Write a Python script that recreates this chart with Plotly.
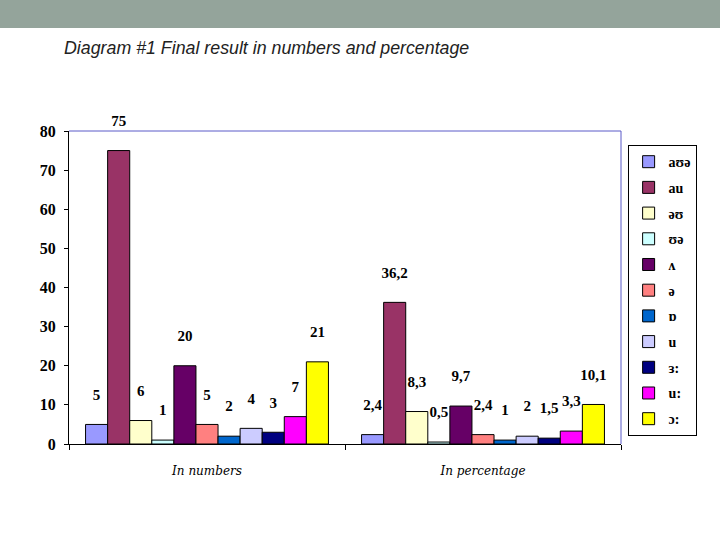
import plotly.graph_objects as go

categories = ["In numbers", "In percentage"]
sounds = ["aʊə", "au", "əʊ", "ʊə", "ʌ", "ə", "ɒ", "u", "ɜ:", "u:", "ɔ:"]
in_numbers = [5, 75, 6, 1, 20, 5, 2, 4, 3, 7, 21]
in_percentage = [2.4, 36.2, 8.3, 0.5, 9.7, 2.4, 1, 2, 1.5, 3.3, 10.1]
colors = ["#9999FF", "#993366", "#FFFFCC", "#CCFFFF", "#660066", "#FF8080",
          "#0066CC", "#CCCCFF", "#000080", "#FF00FF", "#FFFF00"]

def fmt(v):
    return (str(int(v)) if float(v).is_integer() else str(v)).replace(".", ",")

fig = go.Figure()
for i, s in enumerate(sounds):
    vals = [in_numbers[i], in_percentage[i]]
    fig.add_trace(go.Bar(
        x=categories, y=vals, name=s, offsetgroup=str(i), legendgroup=str(i),
        marker=dict(color=colors[i], line=dict(color="black", width=1)),
    ))
for i, s in enumerate(sounds):
    vals = [in_numbers[i], in_percentage[i]]
    fig.add_trace(go.Scatter(
        x=categories, y=vals, mode="text+markers", offsetgroup=str(i),
        marker=dict(size=32, opacity=0), text=[fmt(v) for v in vals],
        textposition="top center", showlegend=False, hoverinfo="skip",
        textfont=dict(family="Liberation Serif", size=15, color="black", weight="bold"),
        cliponaxis=False,
    ))

fig.update_layout(
    width=720, height=540,
    margin=dict(l=69, r=99, t=131, b=96),
    paper_bgcolor="white", plot_bgcolor="white",
    barmode="group", bargap=0.12, bargroupgap=0,
    scattermode="group", scattergap=0.12,
    showlegend=True,
    legend=dict(x=1.012, y=0.955, xanchor="left", yanchor="top",
                bordercolor="black", borderwidth=1, traceorder="grouped",
                tracegroupgap=4.5, itemwidth=30,
                font=dict(family="Liberation Serif", size=14, color="black", weight="bold")),
    xaxis=dict(showline=True, linecolor="black", linewidth=1, ticks="outside",
               tickson="boundaries", ticklen=5, tickcolor="black",
               tickfont=dict(family="DejaVu Serif", size=12, color="black", style="italic"),
               ticklabelstandoff=16, showgrid=False),
    yaxis=dict(range=[0, 80], dtick=10, showline=True, linecolor="black", linewidth=1,
               ticks="outside", ticklen=4, tickcolor="black", showgrid=False, zeroline=False,
               ticklabelstandoff=5,
               tickfont=dict(family="Liberation Serif", size=16, color="black", weight="bold")),
    shapes=[
        dict(type="rect", xref="paper", yref="paper", x0=-0.2, x1=1.3,
             y0=1 + 103 / 313, y1=1 + 132 / 313, fillcolor="#94A49B", line=dict(width=0),
             layer="below"),
        dict(type="line", xref="paper", yref="paper", x0=0, x1=1, y0=1, y1=1,
             line=dict(color="#5B5BC8", width=1)),
        dict(type="line", xref="paper", yref="paper", x0=1, x1=1, y0=0, y1=1,
             line=dict(color="#5B5BC8", width=1)),
    ],
    annotations=[
        dict(text="Diagram #1 Final result in numbers and percentage", xref="paper",
             yref="paper", x=-7 / 552, y=1 + 83 / 313, xanchor="left", yanchor="middle",
             showarrow=False,
             font=dict(family="Liberation Sans", size=17.8, color="#222222", style="italic")),
    ],
)
fig.write_html("out.html", config={"displayModeBar": False},
               post_script="document.body.style.margin='0';document.body.style.overflow='hidden';")
